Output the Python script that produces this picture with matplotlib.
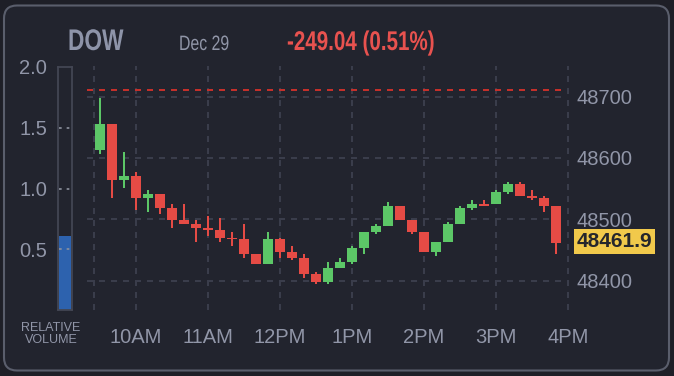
import matplotlib
matplotlib.use("Agg")
import matplotlib.pyplot as plt
from matplotlib.patches import FancyBboxPatch
from matplotlib.transforms import IdentityTransform, Affine2D
from matplotlib.patheffects import AbstractPathEffect

# data (10 minute candles, Dec 29)
times = ["9:30", "9:40", "9:50", "10:00", "10:10", "10:20", "10:30", "10:40", "10:50",
         "11:00", "11:10", "11:20", "11:30", "11:40", "11:50", "12:00", "12:10", "12:20",
         "12:30", "12:40", "12:50", "13:00", "13:10", "13:20", "13:30", "13:40", "13:50",
         "14:00", "14:10", "14:20", "14:30", "14:40", "14:50", "15:00", "15:10", "15:20",
         "15:30", "15:40", "15:50"]
opens = [48613, 48655, 48564, 48571, 48535, 48541, 48518, 48499, 48492, 48486, 48483, 48470, 48467,
         48444, 48427, 48467, 48447, 48437, 48411, 48398, 48421, 48431, 48453, 48479, 48489, 48522,
         48499, 48479, 48447, 48463, 48492, 48518, 48525, 48525, 48545, 48558, 48538, 48535, 48522]
highs = [48698, 48656, 48610, 48577, 48548, 48541, 48525, 48525, 48499, 48505, 48502, 48479, 48492,
         48444, 48479, 48470, 48457, 48444, 48414, 48431, 48437, 48457, 48479, 48492, 48528, 48522,
         48499, 48479, 48463, 48496, 48522, 48532, 48532, 48548, 48561, 48561, 48548, 48538, 48522]
lows = [48607, 48535, 48551, 48515, 48512, 48509, 48486, 48492, 48463, 48473, 48463, 48457, 48437,
        48427, 48427, 48437, 48434, 48405, 48395, 48395, 48421, 48427, 48444, 48476, 48489, 48499,
        48476, 48447, 48440, 48463, 48492, 48515, 48521.5, 48525, 48541, 48538, 48532, 48512, 48444]
closes = [48655, 48564, 48571, 48535, 48541, 48518, 48499, 48492, 48486, 48483, 48470, 48467, 48444,
          48427, 48467, 48447, 48437, 48411, 48398, 48421, 48431, 48453, 48479, 48489, 48522, 48499,
          48479, 48447, 48463, 48492, 48518, 48525, 48521.5, 48545, 48558, 48538, 48535, 48522, 48461.9]
prev_close = 48710.94
last_price = 48461.9
change = "-249.04 (0.51%)"
rel_volume = 0.61

price_ticks = [48400, 48500, 48600, 48700]
hour_ticks = [10, 11, 12, 13, 14, 15, 16]
hour_labels = ["10AM", "11AM", "12PM", "1PM", "2PM", "3PM", "4PM"]
vol_ticks = [0.5, 1.0, 1.5, 2.0]

BG = "#22242e"
GRID = "#3a3d4b"
TXT = "#9196a8"
GREEN = "#5cc767"
RED = "#e54b45"

plt.rcParams["font.family"] = ["Liberation Sans", "DejaVu Sans"]


class Squeeze(AbstractPathEffect):
    # narrows glyphs horizontally around the text origin (header uses a condensed face)
    def __init__(self, sx):
        super().__init__()
        self.sx = sx

    def draw_path(self, renderer, gc, tpath, affine, rgbFace=None):
        x0 = affine.get_matrix()[0, 2]
        aff = affine + Affine2D().translate(-x0, 0).scale(self.sx, 1).translate(x0, 0)
        renderer.draw_path(gc, tpath, aff, rgbFace)


W, H = 674, 376
fig = plt.figure(figsize=(W / 100, H / 100), dpi=100)
fig.patch.set_facecolor("#1e1f27")

card = FancyBboxPatch((4, 5.5), 665, 365, boxstyle="round,pad=0,rounding_size=13",
                      transform=IdentityTransform(), facecolor=BG, edgecolor="#5a5e6c",
                      linewidth=1.5, zorder=0)
fig.add_artist(card)


def px_axes(x0, x1, ytop, ybot):
    return fig.add_axes([x0 / W, 1 - ybot / H, (x1 - x0) / W, (ybot - ytop) / H])


# main price chart
ax = px_axes(87, 570, 66, 310)
ax.set_facecolor("none")
ax.set_xlim(10 - 49 / 72, 10 + 434 / 72)
ax.set_ylim(48352, 48750)
for s in ax.spines.values():
    s.set_visible(False)

dash = (0, (3, 3))
for h in [9 + 25 / 60] + hour_ticks:
    ax.axvline(h, color=GRID, lw=1.44, linestyle=dash, zorder=1)
for p in price_ticks:
    ax.axhline(p, xmax=0.985, color=GRID, lw=1.44, linestyle=dash, zorder=1)
ax.axhline(prev_close, xmax=0.985, color="#c4302b", lw=1.44, linestyle=dash, zorder=2)

xs = []
for t in times:
    hh, mm = t.split(":")
    xs.append(int(hh) + int(mm) / 60)
colors = [GREEN if c >= o else RED for o, c in zip(opens, closes)]
ax.vlines(xs, lows, highs, colors=colors, lw=1.44, zorder=3)
ax.bar(xs, [max(abs(c - o), 1.5) for o, c in zip(opens, closes)],
       bottom=[min(o, c) for o, c in zip(opens, closes)], width=10 / 72,
       color=colors, zorder=4)

ax.set_xticks(hour_ticks)
ax.set_xticklabels(hour_labels)
ax.yaxis.tick_right()
ax.set_yticks(price_ticks)
ax.tick_params(length=0, colors=TXT, labelsize=14.5)
ax.tick_params(axis="x", pad=13)
ax.tick_params(axis="y", pad=5)

ax.annotate(f"{last_price:.1f}", xy=(1, last_price), xycoords=("axes fraction", "data"),
            xytext=(5, 1), textcoords="offset points", va="center", ha="left",
            fontsize=15, fontweight="bold", color="#25262c",
            bbox=dict(boxstyle="square,pad=0.14", facecolor="#f1c94b", edgecolor="none"))

# relative volume gauge
vax = px_axes(58, 72, 67, 310)
vax.set_facecolor("none")
vax.set_xlim(0, 1)
vax.set_ylim(0, 2.0)
vax.bar([0.5], [rel_volume], width=0.86, color="#2d62ae", zorder=2)
vax.hlines(vol_ticks[:-1], 0.05, 0.95, colors="#8d929e", lw=1.2, linestyle=(0, (1.6, 3)), zorder=3)
for s in vax.spines.values():
    s.set_color("#434653")
    s.set_linewidth(1.3)
vax.set_xticks([])
vax.set_yticks(vol_ticks)
vax.set_yticklabels([f"{v:.1f}" for v in vol_ticks])
vax.tick_params(length=0, colors=TXT, labelsize=14.5, pad=8)

fig.text(51 / W, 1 - 334 / H, "RELATIVE\nVOLUME", ha="center", va="center",
         fontsize=9, color=TXT, linespacing=0.95)

# header
sq = [Squeeze(0.76)]
fig.text(68 / W, 1 - 50 / H, "DOW", fontsize=21.5, fontweight="bold",
         color="#8e94a9", va="baseline", path_effects=sq)
fig.text(179 / W, 1 - 50 / H, "Dec 29", fontsize=15, color=TXT, va="baseline", path_effects=sq)
fig.text(287 / W, 1 - 50 / H, change, fontsize=19.5, fontweight="bold",
         color="#e8524f", va="baseline", path_effects=sq)

fig.savefig("out.png", dpi=100, facecolor=fig.get_facecolor())
